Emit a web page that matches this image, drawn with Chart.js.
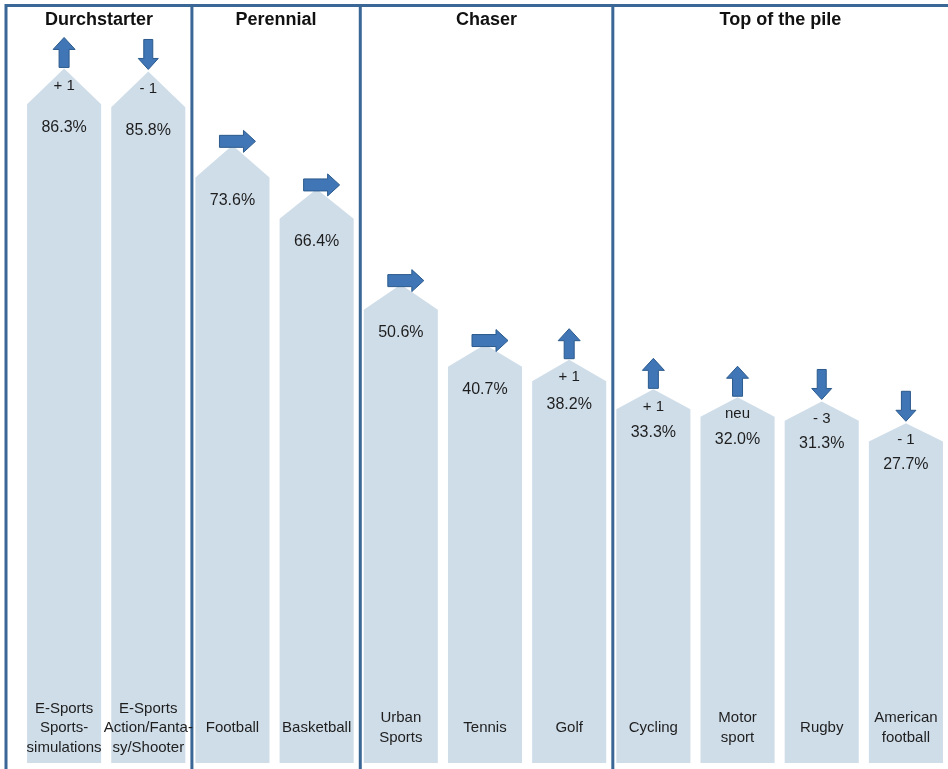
<!DOCTYPE html>
<html>
<head>
<meta charset="utf-8">
<script src="https://cdn.jsdelivr.net/npm/chart.js@4/dist/chart.umd.min.js"></script>
<style>
  html, body { margin: 0; padding: 0; background: #ffffff; }
  #wrap { width: 948px; height: 769px; position: relative; }
</style>
</head>
<body>
<div id="wrap"><canvas id="c" width="948" height="769"></canvas></div>
<script>
// ---- data ----
const categories = [
  ["E-Sports", "Sports-", "simulations"],
  ["E-Sports", "Action/Fanta-", "sy/Shooter"],
  ["Football"],
  ["Basketball"],
  ["Urban", "Sports"],
  ["Tennis"],
  ["Golf"],
  ["Cycling"],
  ["Motor", "sport"],
  ["Rugby"],
  ["American", "football"]
];
const shares = [86.3, 85.8, 73.6, 66.4, 50.6, 40.7, 38.2, 33.3, 32.0, 31.3, 27.7];
const rankChange = ["+ 1", "- 1", "", "", "", "", "+ 1", "+ 1", "neu", "- 3", "- 1"];
const trend = ["up", "down", "right", "right", "right", "right", "up", "up", "up", "down", "down"];
const groupNames = ["Durchstarter", "Perennial", "Chaser", "Top of the pile"];
const groupSizes = [2, 2, 3, 4];

// axis range
const AXIS_FLOOR = -28.4;
const AXIS_TOP = 97.6;

// ---- styles ----
const BAR_COLOR = "#cfdde9";
const ARROW_FILL = "#4076b5";
const ARROW_STROKE = "#2b5a8d";
const LINE_COLOR = "#3b6796";
const TEXT_COLOR = "#1e1e1e";
const FONT = "'Liberation Sans', Arial, sans-serif";
const NARROW = "'Liberation Sans Narrow', 'Liberation Sans', Arial, sans-serif";

function drawUp(ctx, cx, bottom) {
  const h = 30, hw = 11, sw = 5, hh = 12;
  ctx.beginPath();
  ctx.moveTo(cx - sw, bottom);
  ctx.lineTo(cx - sw, bottom - h + hh);
  ctx.lineTo(cx - hw, bottom - h + hh);
  ctx.lineTo(cx, bottom - h);
  ctx.lineTo(cx + hw, bottom - h + hh);
  ctx.lineTo(cx + sw, bottom - h + hh);
  ctx.lineTo(cx + sw, bottom);
  ctx.closePath();
  ctx.fill(); ctx.stroke();
}
function drawDown(ctx, cx, tip) {
  const h = 30, hw = 10, sw = 4.5, hh = 11;
  ctx.beginPath();
  ctx.moveTo(cx - sw, tip - h);
  ctx.lineTo(cx - sw, tip - hh);
  ctx.lineTo(cx - hw, tip - hh);
  ctx.lineTo(cx, tip);
  ctx.lineTo(cx + hw, tip - hh);
  ctx.lineTo(cx + sw, tip - hh);
  ctx.lineTo(cx + sw, tip - h);
  ctx.closePath();
  ctx.fill(); ctx.stroke();
}
function drawRight(ctx, cx, cy) {
  const w = 36, hl = 12, hh = 11, sh = 6;
  const l = cx - w / 2, r = cx + w / 2;
  ctx.beginPath();
  ctx.moveTo(l, cy - sh);
  ctx.lineTo(r - hl, cy - sh);
  ctx.lineTo(r - hl, cy - hh);
  ctx.lineTo(r, cy);
  ctx.lineTo(r - hl, cy + hh);
  ctx.lineTo(r - hl, cy + sh);
  ctx.lineTo(l, cy + sh);
  ctx.closePath();
  ctx.fill(); ctx.stroke();
}

const infographic = {
  id: "infographic",
  afterDatasetsDraw(chart) {
    const ctx = chart.ctx;
    const meta = chart.getDatasetMeta(0);
    const els = meta.data.map(el => {
      const p = el.getProps(["x", "y", "base", "width"], true);
      return { x: p.x, width: p.width, top: Math.min(p.y, p.base), bottom: Math.max(p.y, p.base) };
    });
    ctx.save();

    // house-shaped bars
    els.forEach((e, i) => {
      const cap = 10 + 0.3 * shares[i];
      const l = e.x - e.width / 2, r = e.x + e.width / 2;
      ctx.fillStyle = BAR_COLOR;
      ctx.beginPath();
      ctx.moveTo(l, e.bottom);
      ctx.lineTo(l, e.top + cap);
      ctx.lineTo(e.x, e.top);
      ctx.lineTo(r, e.top + cap);
      ctx.lineTo(r, e.bottom);
      ctx.closePath();
      ctx.fill();
    });

    // group separator lines
    const bounds = [6];
    let idx = 0;
    for (let g = 0; g < groupSizes.length - 1; g++) {
      idx += groupSizes[g];
      const next = els[idx];
      bounds.push(next.x - next.width / 2 - 3.5);
    }
    bounds.push(chart.width);
    ctx.strokeStyle = LINE_COLOR;
    ctx.lineWidth = 3;
    ctx.beginPath();
    ctx.moveTo(4.5, 5.5); ctx.lineTo(chart.width, 5.5);
    for (let k = 0; k < bounds.length - 1; k++) {
      ctx.moveTo(bounds[k], 5); ctx.lineTo(bounds[k], chart.height);
    }
    ctx.stroke();

    // group titles
    ctx.fillStyle = "#111111";
    ctx.font = "bold 18px " + FONT;
    ctx.textAlign = "center";
    ctx.textBaseline = "middle";
    groupNames.forEach((n, g) => {
      ctx.fillText(n, (bounds[g] + bounds[g + 1]) / 2, 20);
    });

    // arrows
    ctx.fillStyle = ARROW_FILL;
    ctx.strokeStyle = ARROW_STROKE;
    ctx.lineWidth = 1;
    els.forEach((e, i) => {
      if (trend[i] === "up") drawUp(ctx, e.x, e.top - 1);
      else if (trend[i] === "down") drawDown(ctx, e.x, e.top - 2);
      else drawRight(ctx, e.x + 5, e.top - 4);
    });

    // texts inside bars
    ctx.fillStyle = TEXT_COLOR;
    ctx.textAlign = "center";
    ctx.textBaseline = "middle";
    els.forEach((e, i) => {
      const cap = 10 + 0.3 * shares[i];
      if (rankChange[i]) {
        ctx.font = "15px " + FONT;
        ctx.fillText(rankChange[i], e.x, e.top + 17);
      }
      ctx.font = "16px " + NARROW;
      ctx.fillText(shares[i].toFixed(1) + "%", e.x, e.top + cap + 23);
    });

    // category labels
    ctx.font = "15px " + FONT;
    els.forEach((e, i) => {
      const lines = categories[i];
      const lh = 19.5;
      const y0 = 728 - (lines.length - 1) * lh / 2;
      lines.forEach((t, k) => ctx.fillText(t, e.x, y0 + k * lh));
    });

    ctx.restore();
  }
};

new Chart(document.getElementById("c"), {
  type: "bar",
  data: {
    labels: categories.map(c => c.join(" ")),
    datasets: [{
      data: shares.map(v => [AXIS_FLOOR, v]),
      backgroundColor: "rgba(0,0,0,0)",
      borderWidth: 0,
      barPercentage: 0.88,
      categoryPercentage: 1.0
    }]
  },
  options: {
    responsive: false,
    animation: false,
    layout: { padding: { left: 22, right: 0, top: 0, bottom: 6 } },
    plugins: { legend: { display: false }, tooltip: { enabled: false } },
    scales: {
      x: { display: false, offset: true },
      y: { display: false, min: AXIS_FLOOR, max: AXIS_TOP }
    }
  },
  plugins: [infographic]
});
</script>
</body>
</html>
